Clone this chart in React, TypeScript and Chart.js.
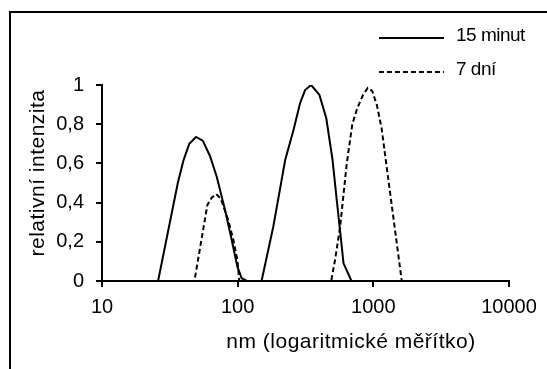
import React, { useEffect, useRef } from "react";
import { Chart, registerables } from "chart.js";

Chart.register(...registerables);

// ---- data ----
const seriesLabels = ["15 minut", "7 dní"];

const minutesSizes = [10, 25.9, 36.2, 39.8, 44, 49.3, 55.3, 62.5, 70.1, 80.7, 90.4, 99.5, 107, 117, 150, 183, 224, 258, 288, 314, 348, 400, 450, 500, 540, 576, 603, 690, 10000];
const minutesValues = [0, 0, 0.5, 0.614, 0.7, 0.735, 0.716, 0.638, 0.532, 0.362, 0.209, 0.073, 0.014, 0, 0, 0.277, 0.617, 0.77, 0.906, 0.974, 1.0, 0.95, 0.83, 0.62, 0.4, 0.22, 0.09, 0, 0];

const daysSizes = [10, 48, 59.8, 64.4, 69.4, 75, 85.3, 92.9, 99.5, 102.8, 489, 523, 570, 637, 700, 760, 840, 910, 980, 1060, 1150, 1620, 10000];
const daysValues = [0, 0, 0.388, 0.425, 0.444, 0.42, 0.31, 0.21, 0.107, 0, 0, 0.11, 0.28, 0.6, 0.8, 0.88, 0.95, 0.985, 0.97, 0.9, 0.78, 0, 0];

const xTicks = [10, 100, 1000, 10000];
const xTickLabels = ["10", "100", "1000", "10000"];
const yTicks = [0, 0.2, 0.4, 0.6, 0.8, 1];
const yTickLabels = ["0", "0,2", "0,4", "0,6", "0,8", "1"];

const xTitle = "nm (logaritmické měřítko)";
const yTitle = "relativní intenzita";

const FONT = '"Liberation Sans", Arial, sans-serif';

const decorPlugin = {
  id: "decor",
  beforeDraw(chart: any) {
    const ctx = chart.ctx;
    ctx.save();
    ctx.fillStyle = "#ffffff";
    ctx.fillRect(0, 0, chart.width, chart.height);
    ctx.strokeStyle = "#000000";
    ctx.lineWidth = 2;
    ctx.beginPath();
    ctx.moveTo(10, chart.height);
    ctx.lineTo(10, 12);
    ctx.lineTo(chart.width, 12);
    ctx.stroke();
    ctx.restore();
  },
  afterDraw(chart: any) {
    const ctx = chart.ctx;
    ctx.save();
    ctx.fillStyle = "#000000";
    ctx.font = `21px ${FONT}`;
    ctx.textBaseline = "middle";
    (ctx as any).letterSpacing = "0.5px";
    // x title
    ctx.textAlign = "center";
    ctx.fillText(xTitle, 351, 342);
    // y title
    ctx.save();
    ctx.translate(38, 173);
    ctx.rotate(-Math.PI / 2);
    ctx.fillText(yTitle, 0, 0);
    ctx.restore();
    // legend
    ctx.font = `19px ${FONT}`;
    (ctx as any).letterSpacing = "-0.5px";
    const legendY = [38, 72];
    chart.data.datasets.forEach((ds: any, i: number) => {
      const y = legendY[i];
      ctx.save();
      ctx.strokeStyle = ds.borderColor;
      ctx.lineWidth = ds.borderWidth;
      ctx.setLineDash(ds.borderDash || []);
      ctx.beginPath();
      ctx.moveTo(379, y);
      ctx.lineTo(444, y);
      ctx.stroke();
      ctx.restore();
      ctx.textAlign = "left";
      ctx.fillText(ds.label, 456, y - 2);
    });
    ctx.restore();
  },
};

export default function App() {
  const ref = useRef<HTMLCanvasElement | null>(null);
  useEffect(() => {
    if (!ref.current) return;
    const chart = new Chart(ref.current, {
      type: "line",
      data: {
        datasets: [
          {
            label: seriesLabels[0],
            data: minutesSizes.map((x, i) => ({ x, y: minutesValues[i] })),
            borderColor: "#000000",
            borderWidth: 2,
            pointRadius: 0,
            tension: 0,
            fill: false,
          },
          {
            label: seriesLabels[1],
            data: daysSizes.map((x, i) => ({ x, y: daysValues[i] })),
            borderColor: "#000000",
            borderWidth: 2,
            borderDash: [5, 3],
            pointRadius: 0,
            tension: 0,
            fill: false,
          },
        ],
      },
      options: {
        animation: false,
        responsive: false,
        devicePixelRatio: 1,
        layout: { padding: { top: 85, right: 38, left: 0, bottom: 0 } },
        plugins: { legend: { display: false }, tooltip: { enabled: false } },
        scales: {
          x: {
            type: "logarithmic",
            min: 10,
            max: 10000,
            afterBuildTicks: (scale: any) => {
              scale.ticks = xTicks.map((v) => ({ value: v }));
            },
            afterFit: (scale: any) => {
              scale.height = 88;
            },
            ticks: {
              autoSkip: false,
              maxRotation: 0,
              color: "#000000",
              font: { family: FONT, size: 20 },
              padding: 8,
              callback: (_v: any, i: number) => xTickLabels[i],
            },
            grid: { drawOnChartArea: false, drawTicks: true, tickLength: 6, color: "#000000", lineWidth: 2 },
            border: { display: true, color: "#000000", width: 2 },
          },
          y: {
            type: "linear",
            min: 0,
            max: 1,
            afterBuildTicks: (scale: any) => {
              scale.ticks = yTicks.map((v) => ({ value: v }));
            },
            afterFit: (scale: any) => {
              scale.width = 102;
            },
            ticks: {
              autoSkip: false,
              color: "#000000",
              font: { family: FONT, size: 20 },
              padding: 12,
              callback: (_v: any, i: number) => yTickLabels[i],
            },
            grid: { drawOnChartArea: false, drawTicks: true, tickLength: 6, color: "#000000", lineWidth: 2 },
            border: { display: true, color: "#000000", width: 2 },
          },
        },
      },
      plugins: [decorPlugin],
    });
    return () => chart.destroy();
  }, []);
  return (
    <div style={{ position: "fixed", left: 0, top: 0, width: 547, height: 369, background: "#fff" }}>
      <canvas ref={ref} width={547} height={369} style={{ display: "block", width: 547, height: 369 }} />
    </div>
  );
}
